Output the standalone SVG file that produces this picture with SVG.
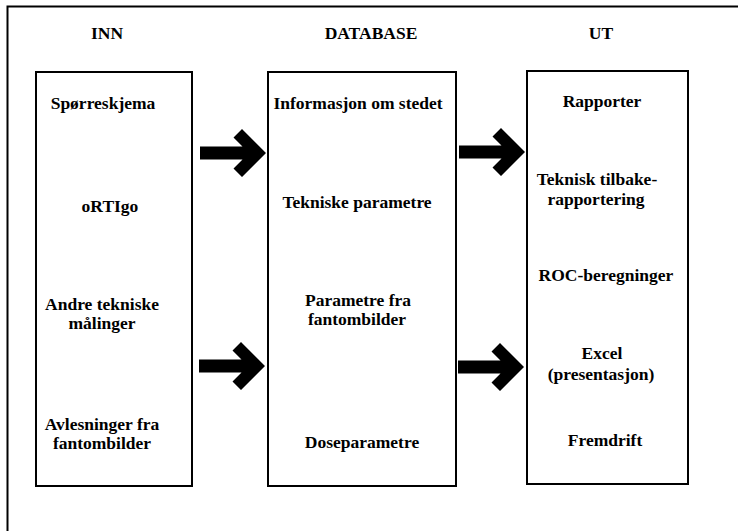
<svg xmlns="http://www.w3.org/2000/svg" xmlns:xlink="http://www.w3.org/1999/xlink" width="738" height="531" viewBox="0 0 738 531">
<style>
.frame{fill:none;stroke:#000;stroke-width:2}
.box{fill:#fff;stroke:#000;stroke-width:2}
text{font-family:"Liberation Serif","Times New Roman",serif;font-size:17.5px;font-weight:bold;fill:#000;text-anchor:middle}
.arr{fill:#000}
</style>
<defs>
<path id="bigArrow" class="arr" d="M-66,-6.5 L-23.5,-6.5 L-32.5,-15.5 L-24,-24 L0,0 L-24,24 L-32.5,15.5 L-23.5,6.5 L-66,6.5 Z"/>
</defs>
<rect width="738" height="531" fill="#fff"/>
<path class="frame" d="M7.5,531 V6.5 H738"/>
<g id="hdr-inn"><text x="107" y="39">INN</text></g>
<g id="hdr-db"><text x="371" y="39">DATABASE</text></g>
<g id="hdr-ut"><text x="601" y="39">UT</text></g>
<g id="inn">
<rect class="box" x="36" y="72" width="156" height="414"/>
<text x="103" y="109">Spørreskjema</text>
<text x="110" y="212">oRTIgo</text>
<text x="102" y="310">Andre tekniske</text>
<text x="102" y="329">målinger</text>
<text x="102" y="430">Avlesninger fra</text>
<text x="102" y="449">fantombilder</text>
</g>
<g id="database">
<rect class="box" x="268" y="72" width="188" height="414"/>
<text x="358" y="109">Informasjon om stedet</text>
<text x="357" y="208">Tekniske parametre</text>
<text x="358" y="306">Parametre fra</text>
<text x="357" y="325">fantombilder</text>
<text x="362" y="448">Doseparametre</text>
</g>
<g id="ut">
<rect class="box" x="527" y="71" width="161" height="413"/>
<text x="602" y="107">Rapporter</text>
<text x="597" y="185">Teknisk tilbake-</text>
<text x="596" y="205">rapportering</text>
<text x="606" y="281">ROC-beregninger</text>
<text x="602" y="359">Excel</text>
<text x="601" y="380">(presentasjon)</text>
<text x="605" y="446">Fremdrift</text>
</g>
<g id="connectors">
<use xlink:href="#bigArrow" transform="translate(266,153)"/>
<use xlink:href="#bigArrow" transform="translate(525,152)"/>
<use xlink:href="#bigArrow" transform="translate(265,366)"/>
<use xlink:href="#bigArrow" transform="translate(524,367)"/>
</g>
</svg>
